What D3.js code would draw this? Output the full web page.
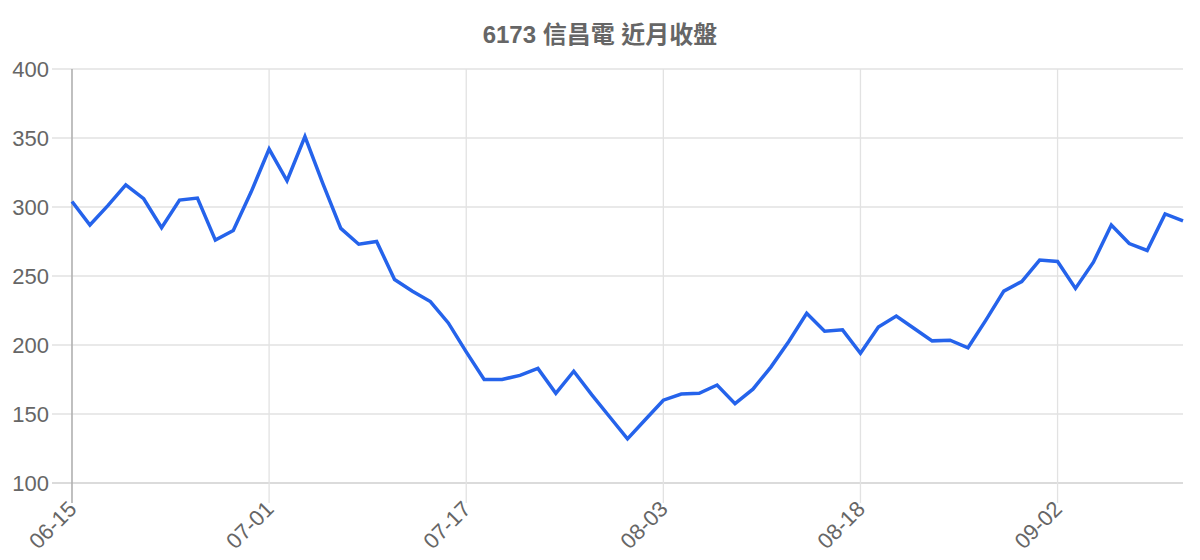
<!DOCTYPE html>
<html>
<head>
<meta charset="utf-8">
<script src="https://cdn.jsdelivr.net/npm/d3@7"></script>
<style>
	body { margin: 0; background: #fff; }
	svg { display: block; font-family: "Liberation Sans", Arial, "Noto Sans CJK TC", sans-serif; }
</style>
</head>
<body>
<svg width="1200" height="560"></svg>
<script>
var title = "6173 信昌電 近月收盤";

var dates = [
	"06-15","06-16","06-17","06-18","06-19","06-22","06-23","06-24","06-26","06-29","06-30",
	"07-01","07-02","07-03","07-06","07-07","07-08","07-09","07-13","07-14","07-15","07-16",
	"07-17","07-20","07-21","07-22","07-23","07-24","07-27","07-28","07-29","07-30","07-31",
	"08-03","08-04","08-05","08-06","08-07","08-10","08-11","08-12","08-13","08-14","08-17",
	"08-18","08-19","08-20","08-21","08-24","08-25","08-26","08-27","08-28","08-31","09-01",
	"09-02","09-03","09-04","09-07","09-08","09-09","09-10","09-11"
];

var closes = [
	304, 287, 301, 316, 306, 285, 305, 306.5, 276, 283, 311,
	342, 319, 351, 317, 284.5, 273, 275, 247.5, 239, 231.5, 216,
	195, 175, 175, 178, 183, 165, 181, 164, 148, 132, 146,
	160, 164.5, 165, 171, 157.5, 168, 184, 202.5, 223, 210, 211,
	194, 213, 221, 212, 203, 203.5, 198, 218, 239, 246, 261.5,
	260.5, 241, 260, 287, 273.5, 268.5, 295, 290
];

var yTicks = [100, 150, 200, 250, 300, 350, 400];
var xTickEvery = 11;

(function(){
	var svg = d3.select("svg"),
		margin = {top: 69, right: 17, bottom: 77, left: 72},
		width = +svg.attr("width") - margin.left - margin.right,
		height = +svg.attr("height") - margin.top - margin.bottom;

	var g = svg.append("g")
		.attr("transform", "translate(" + margin.left + "," + margin.top + ")");

	var x = d3.scalePoint().domain(dates).range([0, width]),
		y = d3.scaleLinear().domain([100, 400]).range([height, 0]);

	var shown = dates.filter(function(d, i){ return i % xTickEvery === 0; });

	// horizontal grid
	g.append("g")
		.selectAll("line")
		.data(yTicks)
		.enter().append("line")
			.attr("x1", -20)
			.attr("x2", width)
			.attr("y1", function(d){ return y(d); })
			.attr("y2", function(d){ return y(d); })
			.attr("stroke", function(d){ return d === 100 ? "#cfcfcf" : "#e2e2e2"; })
			.attr("stroke-width", 1.3);

	// vertical grid at shown labels
	g.append("g")
		.selectAll("line")
		.data(shown)
		.enter().append("line")
			.attr("x1", function(d){ return x(d); })
			.attr("x2", function(d){ return x(d); })
			.attr("y1", 0)
			.attr("y2", height + 20)
			.attr("stroke", function(d, i){ return i === 0 ? "#b0b0b0" : "#e2e2e2"; })
			.attr("stroke-width", function(d, i){ return i === 0 ? 1.6 : 1.3; });

	// y axis labels
	var yAxis = g.append("g")
		.call(d3.axisLeft(y).tickValues(yTicks).tickSize(0).tickPadding(23));
	yAxis.select(".domain").remove();
	yAxis.selectAll("text")
		.attr("fill", "#666")
		.style("font-size", "22px")
		.style("font-family", "'Liberation Sans', Arial, sans-serif");

	// x axis labels
	var xAxis = g.append("g")
		.attr("transform", "translate(0," + height + ")")
		.call(d3.axisBottom(x).tickValues(shown).tickSize(0));
	xAxis.select(".domain").remove();
	xAxis.selectAll("text")
		.attr("fill", "#666")
		.style("font-size", "22px")
		.style("font-family", "'Liberation Sans', Arial, sans-serif")
		.attr("text-anchor", "end")
		.attr("y", 0)
		.attr("dy", "0.35em")
		.attr("transform", "translate(0,22) rotate(-45)");

	var line = d3.line()
		.x(function(d, i){ return x(dates[i]); })
		.y(function(d){ return y(d); });

	g.append("path")
		.datum(closes)
		.attr("fill", "none")
		.attr("stroke", "#2563eb")
		.attr("stroke-width", 3.5)
		.attr("stroke-linejoin", "miter")
		.attr("d", line);

	svg.append("text")
		.text(title)
		.attr("x", +svg.attr("width") / 2)
		.attr("y", 43)
		.attr("text-anchor", "middle")
		.attr("fill", "#666")
		.style("font-size", "24px")
		.style("font-weight", "bold");
})();
</script>
</body>
</html>
